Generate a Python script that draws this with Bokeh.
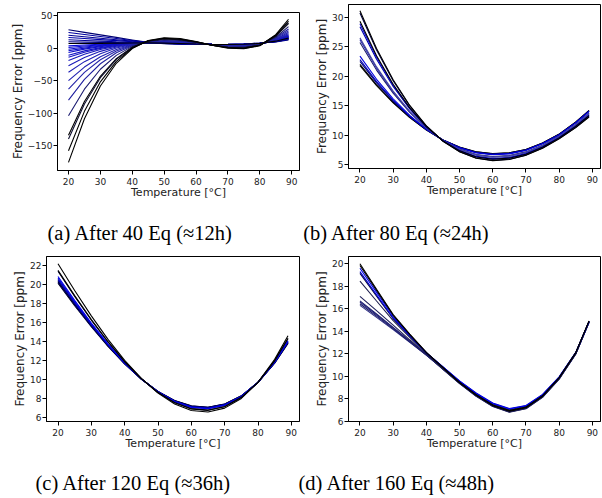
from bokeh.plotting import figure
from bokeh.layouts import column, row
from bokeh.models import Range1d, FixedTicker, CustomJSTickFormatter, Label
from bokeh.embed import file_html
from bokeh.resources import INLINE

# ---------------- data ----------------
temps = [20, 25, 30, 35, 40, 45, 50, 55, 60, 65, 70, 75, 80, 85, 89]
x_ticks = [20, 30, 40, 50, 60, 70, 80, 90]

# (a) After 40 Eq
a_curves = [
    [28.4, 24.5, 20.6, 16.7, 12.8, 9.0, 7.0, 6.3, 5.9, 5.7, 6.0, 6.6, 8.0, 9.8, 12.8],
    [24.3, 21.2, 18.1, 15.0, 11.9, 8.8, 7.2, 6.5, 6.0, 5.7, 5.9, 6.5, 7.9, 10.0, 13.4],
    [20.1, 17.8, 15.5, 13.2, 10.9, 8.6, 7.4, 6.7, 6.1, 5.8, 5.9, 6.4, 7.8, 10.2, 14.0],
    [16.5, 14.9, 13.3, 11.7, 10.0, 8.4, 7.6, 6.9, 6.2, 5.8, 5.8, 6.3, 7.7, 10.4, 14.5],
    [13.0, 12.0, 11.0, 10.0, 9.1, 8.3, 7.7, 7.0, 6.3, 5.9, 5.8, 6.3, 7.6, 10.6, 15.0],
    [9.9, 9.5, 9.1, 8.8, 8.5, 8.3, 7.8, 7.1, 6.4, 5.9, 5.8, 6.2, 7.5, 10.8, 15.4],
    [3.7, 5.0, 6.2, 7.1, 7.9, 8.3, 8.1, 7.4, 6.5, 6.0, 5.7, 6.1, 7.5, 11.1, 16.4],
    [1.1, 3.4, 5.2, 6.7, 7.8, 8.4, 8.2, 7.5, 6.6, 6.0, 5.6, 6.0, 7.4, 11.3, 16.8],
    [-1.5, 1.8, 4.3, 6.2, 7.7, 8.4, 8.3, 7.6, 6.7, 5.9, 5.6, 5.9, 7.4, 11.4, 17.2],
    [-4.0, 0.2, 3.4, 5.8, 7.5, 8.5, 8.5, 7.7, 6.7, 5.9, 5.5, 5.8, 7.3, 11.5, 17.6],
    [-6.6, -1.4, 2.5, 5.4, 7.4, 8.5, 8.6, 7.8, 6.8, 5.9, 5.4, 5.7, 7.3, 11.7, 18.0],
    [-10.7, -4.1, 1.0, 4.7, 7.2, 8.6, 8.8, 8.0, 6.8, 5.9, 5.3, 5.5, 7.2, 11.9, 18.6],
    [-14.0, -6.2, -0.2, 4.1, 7.1, 8.7, 8.9, 8.1, 6.9, 5.8, 5.2, 5.4, 7.1, 12.1, 19.2],
    [-19.0, -9.3, -1.9, 3.3, 6.8, 8.8, 9.1, 8.3, 7.0, 5.8, 5.0, 5.2, 7.0, 12.4, 19.9],
    [-27.0, -14.4, -4.8, 1.9, 6.5, 9.0, 9.5, 8.7, 7.2, 5.7, 4.8, 4.9, 6.8, 12.8, 21.2],
    [-37.0, -20.7, -8.4, 0.3, 6.0, 9.1, 9.9, 9.1, 7.4, 5.6, 4.5, 4.5, 6.7, 13.3, 22.8],
    [-50.0, -29.0, -13.1, -2.0, 5.4, 9.4, 10.5, 9.6, 7.7, 5.5, 4.0, 4.0, 6.4, 14.0, 24.8],
    [-63.0, -37.2, -17.7, -4.1, 4.8, 9.7, 11.1, 10.2, 7.9, 5.4, 3.6, 3.5, 6.1, 14.8, 26.9],
    [-80.0, -48.0, -23.9, -7.0, 4.0, 10.0, 11.9, 10.9, 8.3, 5.3, 3.1, 2.8, 5.8, 15.7, 29.6],
    [-104.0, -63.1, -32.4, -11.0, 2.9, 10.5, 13.0, 11.9, 8.8, 5.1, 2.4, 1.9, 5.3, 17.0, 33.3],
    [7.3, 7.3, 7.5, 7.7, 8.1, 8.3, 7.9, 7.2, 6.5, 6.0, 5.8, 6.2, 7.5, 10.9, 15.8],
    [-134.0, -82.1, -43.2, -16.1, 1.5, 11.1, 14.3, 13.1, 9.4, 4.8, 1.4, 0.7, 4.7, 18.6, 38.1],
    [-140.0, -85.9, -45.4, -17.1, 1.2, 11.2, 14.6, 13.4, 9.5, 4.8, 1.2, 0.5, 4.6, 18.9, 39.0],
    [-158.0, -97.3, -51.8, -20.2, 0.3, 11.5, 15.4, 14.1, 9.9, 4.6, 0.7, -0.2, 4.3, 19.9, 41.9],
    [-176.0, -108.7, -58.3, -23.2, -0.5, 11.9, 16.2, 14.9, 10.3, 4.5, 0.1, -0.9, 3.9, 20.9, 44.7],
]
a_yticks = [-150, -100, -50, 0, 50]

# (b) After 80 Eq
b_curves = [
    [21.8, 18.4, 15.5, 13.0, 10.9, 9.2, 8.0, 7.2, 6.9, 7.05, 7.6, 8.7, 10.2, 12.25, 14.2],
    [22.0, 18.54, 15.59, 13.05, 10.92, 9.2, 7.98, 7.18, 6.87, 7.02, 7.58, 8.68, 10.18, 12.23, 14.18],
    [22.5, 18.87, 15.79, 13.15, 10.95, 9.18, 7.94, 7.12, 6.81, 6.96, 7.53, 8.63, 10.14, 12.18, 14.12],
    [22.8, 19.08, 15.92, 13.22, 10.98, 9.18, 7.91, 7.08, 6.77, 6.93, 7.49, 8.6, 10.11, 12.15, 14.08],
    [23.4, 19.48, 16.17, 13.35, 11.02, 9.17, 7.86, 7.01, 6.69, 6.85, 7.43, 8.55, 10.06, 12.09, 14.01],
    [25.7, 21.04, 17.13, 13.86, 11.19, 9.12, 7.66, 6.74, 6.4, 6.57, 7.18, 8.32, 9.86, 11.85, 13.74],
    [26.2, 21.38, 17.34, 13.97, 11.23, 9.11, 7.62, 6.68, 6.33, 6.51, 7.13, 8.27, 9.82, 11.8, 13.68],
    [26.5, 21.58, 17.47, 14.04, 11.25, 9.1, 7.6, 6.64, 6.29, 6.47, 7.09, 8.25, 9.8, 11.77, 13.64],
    [28.4, 22.87, 18.27, 14.46, 11.4, 9.06, 7.43, 6.42, 6.05, 6.23, 6.89, 8.06, 9.63, 11.58, 13.42],
    [28.9, 23.21, 18.48, 14.56, 11.43, 9.05, 7.39, 6.36, 5.98, 6.17, 6.84, 8.01, 9.59, 11.53, 13.36],
    [29.3, 23.48, 18.64, 14.65, 11.46, 9.04, 7.36, 6.31, 5.93, 6.12, 6.79, 7.97, 9.56, 11.48, 13.31],
    [30.7, 24.43, 19.23, 14.96, 11.57, 9.01, 7.23, 6.15, 5.75, 5.95, 6.64, 7.84, 9.43, 11.34, 13.15],
    [31.1, 24.7, 19.4, 15.05, 11.6, 9.0, 7.2, 6.1, 5.7, 5.9, 6.6, 7.8, 9.4, 11.3, 13.1],
]
b_yticks = [5, 10, 15, 20, 25, 30]

# (c) After 120 Eq
c_curves = [
    [20.11, 17.76, 15.54, 13.49, 11.64, 10.05, 8.76, 7.81, 7.25, 7.11, 7.45, 8.3, 9.71, 11.73, 13.8],
    [20.2, 17.84, 15.6, 13.53, 11.66, 10.05, 8.75, 7.79, 7.23, 7.09, 7.43, 8.29, 9.71, 11.75, 13.84],
    [20.3, 17.91, 15.65, 13.56, 11.68, 10.06, 8.74, 7.77, 7.2, 7.06, 7.41, 8.27, 9.71, 11.77, 13.88],
    [20.4, 17.99, 15.71, 13.6, 11.7, 10.06, 8.73, 7.76, 7.18, 7.04, 7.39, 8.26, 9.71, 11.79, 13.92],
    [20.5, 18.07, 15.76, 13.63, 11.71, 10.07, 8.72, 7.74, 7.16, 7.01, 7.36, 8.25, 9.71, 11.81, 13.96],
    [20.65, 18.18, 15.85, 13.69, 11.74, 10.07, 8.71, 7.71, 7.12, 6.98, 7.33, 8.23, 9.71, 11.83, 14.01],
    [20.8, 18.3, 15.93, 13.74, 11.77, 10.08, 8.7, 7.69, 7.09, 6.94, 7.3, 8.21, 9.71, 11.86, 14.07],
    [21.35, 18.72, 16.24, 13.94, 11.87, 10.1, 8.65, 7.59, 6.96, 6.8, 7.18, 8.14, 9.71, 11.97, 14.29],
    [21.45, 18.8, 16.29, 13.97, 11.89, 10.1, 8.64, 7.57, 6.93, 6.78, 7.16, 8.12, 9.71, 11.99, 14.33],
    [22.14, 19.34, 16.68, 14.22, 12.02, 10.13, 8.58, 7.45, 6.77, 6.61, 7.01, 8.03, 9.71, 12.12, 14.6],
]
c_yticks = [6, 8, 10, 12, 14, 16, 18, 20, 22]

# (d) After 160 Eq
d_curves = [
    [16.3, 15.23, 14.15, 13.02, 11.88, 10.65, 9.4, 8.28, 7.38, 6.88, 7.18, 8.18, 9.8, 12.02, 14.82],
    [16.45, 15.34, 14.23, 13.06, 11.89, 10.66, 9.42, 8.3, 7.4, 6.9, 7.2, 8.2, 9.8, 12.0, 14.8],
    [16.6, 15.45, 14.3, 13.1, 11.9, 10.64, 9.38, 8.26, 7.35, 6.85, 7.15, 8.16, 9.78, 12.0, 14.82],
    [16.7, 15.53, 14.35, 13.13, 11.91, 10.63, 9.36, 8.24, 7.32, 6.82, 7.12, 8.14, 9.76, 11.99, 14.8],
    [17.1, 15.83, 14.55, 13.24, 11.94, 10.62, 9.35, 8.22, 7.3, 6.8, 7.1, 8.12, 9.74, 11.98, 14.8],
    [18.45, 16.69, 14.94, 13.45, 12.02, 10.74, 9.46, 8.36, 7.46, 6.96, 7.26, 8.26, 9.86, 12.06, 14.86],
    [19.15, 17.13, 15.11, 13.56, 12.06, 10.8, 9.52, 8.42, 7.52, 7.02, 7.32, 8.32, 9.9, 12.1, 14.88],
    [19.3, 17.24, 15.18, 13.59, 12.07, 10.83, 9.58, 8.5, 7.62, 7.12, 7.4, 8.38, 9.95, 12.12, 14.85],
    [19.6, 17.46, 15.31, 13.66, 12.09, 10.82, 9.55, 8.46, 7.58, 7.08, 7.36, 8.34, 9.92, 12.1, 14.86],
    [19.85, 17.64, 15.42, 13.71, 12.1, 10.78, 9.46, 8.35, 7.44, 6.94, 7.25, 8.26, 9.88, 12.1, 14.9],
    [20.0, 17.74, 15.49, 13.74, 12.11, 10.75, 9.42, 8.3, 7.38, 6.88, 7.2, 8.22, 9.85, 12.08, 14.92],
]
d_yticks = [6, 8, 10, 12, 14, 16, 18, 20]

captions = [
    "(a) After 40 Eq (\u224812h)",
    "(b) After 80 Eq (\u224824h)",
    "(c) After 120 Eq (\u224836h)",
    "(d) After 160 Eq (\u224848h)",
]

# ---------------- styles ----------------
a_colors = ["#000070", "#0000a0", "#000090", "#0000a8", "#00009a", "#000080",
            "#0808d5", "#0a0ad0", "#0c0ccc", "#0e0ec8", "#1010c8", "#1212c5",
            "#1515c0", "#1818bb", "#1a1ab8", "#2020b5", "#1f1fb0", "#2525a8",
            "#2020a0", "#1a1a70", "#000000", "#000000", "#101030", "#000000", "#000000"]
b_colors = ["#101010", "#000000", "#000070", "#0000b0", "#0000dd", "#20206a",
            "#2a2ab0", "#4848a0", "#0000aa", "#0000cc", "#000000", "#000040", "#000000"]
c_colors = ["#000000", "#0000aa", "#000000", "#000080", "#0000b0", "#0000cc",
            "#0000ee", "#000030", "#000000", "#000000"]
d_colors = ["#303088", "#1a1a60", "#2a2a80", "#202070", "#20205a", "#202050",
            "#101040", "#0000cc", "#0000ee", "#000000", "#000000"]

TICK_FONT = "DejaVu Sans"
CAP_FONT = "Liberation Serif"
MINUS = CustomJSTickFormatter(code="return tick < 0 ? '\\u2212' + Math.abs(tick) : tick.toString();")


def panel(curves, colors, yr, yticks, w, h, bl, br, bt, bb):
    p = figure(width=w, height=h, output_backend="svg", toolbar_location=None,
               title=None,
               x_range=Range1d(16.55, 92.45), y_range=Range1d(*yr),
               min_border_left=bl, min_border_right=br,
               min_border_top=bt, min_border_bottom=bb)
    p.grid.visible = False
    p.outline_line_color = "#000000"
    p.outline_line_width = 1
    p.background_fill_color = "white"
    p.border_fill_color = "white"
    for ys, c in zip(curves, colors):
        p.line(temps, ys, line_color=c, line_width=1.1)
    p.xaxis.ticker = FixedTicker(ticks=x_ticks)
    p.yaxis.ticker = FixedTicker(ticks=yticks)
    p.yaxis.formatter = MINUS
    p.xaxis.axis_label = "Temperature [\u00b0C]"
    p.yaxis.axis_label = "Frequency Error [ppm]"
    for ax in (p.xaxis[0], p.yaxis[0]):
        ax.axis_line_color = "#000000"
        ax.major_tick_line_color = "#000000"
        ax.major_tick_out = 4
        ax.major_tick_in = 0
        ax.minor_tick_line_color = None
        ax.major_label_text_font = TICK_FONT
        ax.major_label_text_font_size = "9px"
        ax.major_label_text_color = "#222222"
        ax.axis_label_text_font = TICK_FONT
        ax.axis_label_text_font_style = "normal"
        ax.axis_label_text_color = "#222222"
    p.xaxis.major_label_standoff = 3
    p.xaxis.axis_label_text_font_size = "11px"
    p.xaxis.axis_label_standoff = -2
    p.yaxis.major_label_standoff = 1
    p.yaxis.axis_label_text_font_size = "12px"
    p.yaxis.axis_label_standoff = 0
    return p


def caption_strip(h, items):
    c = figure(width=602, height=h, output_backend="svg", toolbar_location=None,
               title=None, x_axis_type=None, y_axis_type=None,
               x_range=Range1d(0, 602), y_range=Range1d(0, h),
               min_border=0, min_border_left=0, min_border_right=0,
               min_border_top=0, min_border_bottom=0)
    c.grid.visible = False
    c.outline_line_color = None
    c.background_fill_color = "white"
    c.border_fill_color = "white"
    for text, sx, sy in items:
        c.add_layout(Label(text=text, x=sx, y=sy, x_units="screen", y_units="screen",
                           text_align="left", text_baseline="alphabetic",
                           text_font=CAP_FONT, text_font_size="20.5px",
                           text_color="#000000"))
    return c


pa = panel(a_curves, a_colors, (-188.5, 55.1), a_yticks, 300, 210, 57, 1, 12, 40)
pb = panel(b_curves, b_colors, (4.37, 32.15), b_yticks, 302, 216, 48, 2, 12, 40)
pb.margin = (-8, 0, 0, 0)
pc = panel(c_curves, c_colors, (5.61, 22.9), c_yticks, 300, 210, 46, 1, 6, 38)
pd = panel(d_curves, d_colors, (5.97, 20.65), d_yticks, 302, 210, 48, 2, 6, 39)

cap1 = caption_strip(40, [(captions[0], 47, 18), (captions[1], 302.7, 18)])
cap2 = caption_strip(38, [(captions[2], 35, 16), (captions[3], 298, 16)])

layout = column(row(pa, pb), cap1, row(pc, pd), cap2)

open("out.html", "w").write(file_html(layout, INLINE))
